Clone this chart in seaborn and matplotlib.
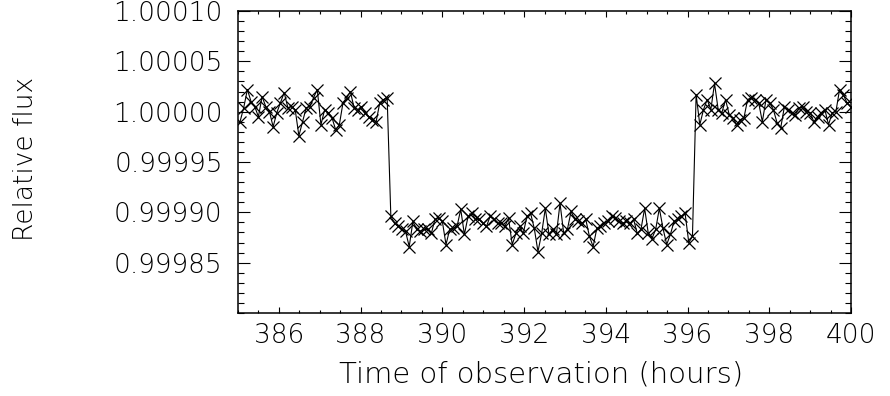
import numpy as np
import pandas as pd
import seaborn as sns
import matplotlib
matplotlib.use("Agg")
import matplotlib.pyplot as plt
from matplotlib import font_manager
from matplotlib.ticker import FixedLocator, FixedFormatter, MultipleLocator

# ---------------- data ----------------
# observation times in hours (uniform 0.09 h sampling)
time_hours = [
    385.05, 385.14, 385.23, 385.32, 385.41, 385.50, 385.59, 385.68, 385.77, 385.86,
    385.95, 386.04, 386.13, 386.22, 386.31, 386.40, 386.49, 386.58, 386.67, 386.76,
    386.85, 386.94, 387.03, 387.12, 387.21, 387.30, 387.39, 387.48, 387.57, 387.66,
    387.75, 387.84, 387.93, 388.02, 388.11, 388.20, 388.29, 388.38, 388.47, 388.56,
    388.65, 388.74, 388.83, 388.92, 389.01, 389.10, 389.19, 389.28, 389.37, 389.46,
    389.55, 389.64, 389.73, 389.82, 389.91, 390.00, 390.09, 390.18, 390.27, 390.36,
    390.45, 390.54, 390.63, 390.72, 390.81, 390.90, 390.99, 391.08, 391.17, 391.26,
    391.35, 391.44, 391.53, 391.62, 391.71, 391.80, 391.89, 391.98, 392.07, 392.16,
    392.25, 392.34, 392.43, 392.52, 392.61, 392.70, 392.79, 392.88, 392.97, 393.06,
    393.15, 393.24, 393.33, 393.42, 393.51, 393.60, 393.69, 393.78, 393.87, 393.96,
    394.05, 394.14, 394.23, 394.32, 394.41, 394.50, 394.59, 394.68, 394.77, 394.86,
    394.95, 395.04, 395.13, 395.22, 395.31, 395.40, 395.49, 395.58, 395.67, 395.76,
    395.85, 395.94, 396.03, 396.12, 396.21, 396.30, 396.39, 396.48, 396.57, 396.66,
    396.75, 396.84, 396.93, 397.02, 397.11, 397.20, 397.29, 397.38, 397.47, 397.56,
    397.65, 397.74, 397.83, 397.92, 398.01, 398.10, 398.19, 398.28, 398.37, 398.46,
    398.55, 398.64, 398.73, 398.82, 398.91, 399.00, 399.09, 399.18, 399.27, 399.36,
    399.45, 399.54, 399.63, 399.72, 399.81, 399.90, 399.99,
]

# flux deviation from 1 in parts per million
pre_transit_ppm = [
    -10, 4, 22, 10, 5, -5, 15, 5, 0, -15, -1, 9, 19, 4, 5, 2, -24, -10, 4, 5,
    14, 22, -13, 2, -1, -6, -18, -13, 9, 14, 20, 4, 2, 5, -1, -5, -8, -10, 9, 12, 14,
]
in_transit_ppm = [
    -104, -111, -114, -117, -119, -134, -109, -117, -119, -117,
    -117, -121, -107, -106, -109, -132, -117, -116, -114, -97,
    -122, -104, -101, -107, -107, -111, -114, -104, -107, -111,
    -111, -114, -106, -132, -121, -114, -121, -104, -101, -116,
    -139, -121, -96, -122, -117,
    -122, -91, -121, -117, -99, -107, -109, -111, -107, -124,
    -134, -116, -114, -111, -109, -104, -106, -109, -111, -109,
    -111, -107, -121, -117, -96, -121, -126, -117, -96, -116,
    -132, -122, -109, -107, -104, -101, -130, -124,
]
post_transit_ppm = [
    17, -13, 2, 12, 2, 28, 2, -1, 12, -3, -6, -13, -8, -6, 12, 14, 12, 9, -10, 12,
    9, 2, -11, -16, 5, 2, -1, -3, 4, 5, 0, -1, -10, -5, -1, 2, -13, -1, 0, 22,
    17, 9, 5,
]

y_ticks = [0.99985, 0.99990, 0.99995, 1.00000, 1.00005, 1.00010]
y_tick_labels = ["0.99985", "0.99990", "0.99995", "1.00000", "1.00005", "1.00010"]
x_ticks = [386, 388, 390, 392, 394, 396, 398, 400]
x_tick_labels = ["386", "388", "390", "392", "394", "396", "398", "400"]

# ---------------- build table ----------------
ppm = pre_transit_ppm + in_transit_ppm + post_transit_ppm
df = pd.DataFrame({
    "time": time_hours,
    "flux": [1.0 + v * 1e-6 for v in ppm],
})

# ---------------- style ----------------
sns.set_style("ticks")
available = {(f.name, f.weight) for f in font_manager.fontManager.ttflist}
if any(n == "DejaVu Sans" and w in (200, "extra-light", "light") for n, w in available):
    fam, wt = "DejaVu Sans", 200
elif any(n == "Lato" and w in (300, "light") for n, w in available):
    fam, wt = "Lato", 300
else:
    fam, wt = "DejaVu Sans", "normal"
plt.rcParams["font.family"] = [fam, "DejaVu Sans"]
plt.rcParams["font.weight"] = wt
plt.rcParams["axes.labelweight"] = wt
plt.rcParams["text.color"] = "black"
plt.rcParams["axes.labelcolor"] = "black"

fig = plt.figure(figsize=(8.9, 3.96), dpi=100)
ax = fig.add_axes([0.2674, 0.2096, 0.6888, 0.7626])

sns.lineplot(data=df, x="time", y="flux", ax=ax, color="black",
             linewidth=0.8, marker="x", markersize=8, markeredgewidth=0.9,
             markeredgecolor="black", sort=False, estimator=None)

ax.set_xlim(385, 400)
ax.set_ylim(0.99980, 1.00010)

ax.xaxis.set_major_locator(FixedLocator(x_ticks))
ax.xaxis.set_major_formatter(FixedFormatter(x_tick_labels))
ax.xaxis.set_minor_locator(MultipleLocator(0.5))
ax.yaxis.set_major_locator(FixedLocator(y_ticks))
ax.yaxis.set_major_formatter(FixedFormatter(y_tick_labels))
ax.yaxis.set_minor_locator(MultipleLocator(0.00001))

ax.tick_params(axis="both", which="both", direction="in", top=True, right=True,
               color="black", width=0.8, labelcolor="black", labelsize=19)
ax.tick_params(axis="x", which="major", length=4.5, pad=7)
ax.tick_params(axis="x", which="minor", length=2.2)
ax.tick_params(axis="y", which="major", length=8.5, pad=11)
ax.tick_params(axis="y", which="minor", length=4.3)

for s in ax.spines.values():
    s.set_linewidth(1.1)
    s.set_color("black")

ax.set_xlabel("Time of observation (hours)", fontsize=21, va="center", fontweight=wt)
ax.set_ylabel("Relative flux", fontsize=19, va="center", fontweight=wt)
ax.xaxis.set_label_coords(0.495, -0.205)
ax.yaxis.set_label_coords(-0.347, 0.51)

fig.savefig("out.png", dpi=100)
